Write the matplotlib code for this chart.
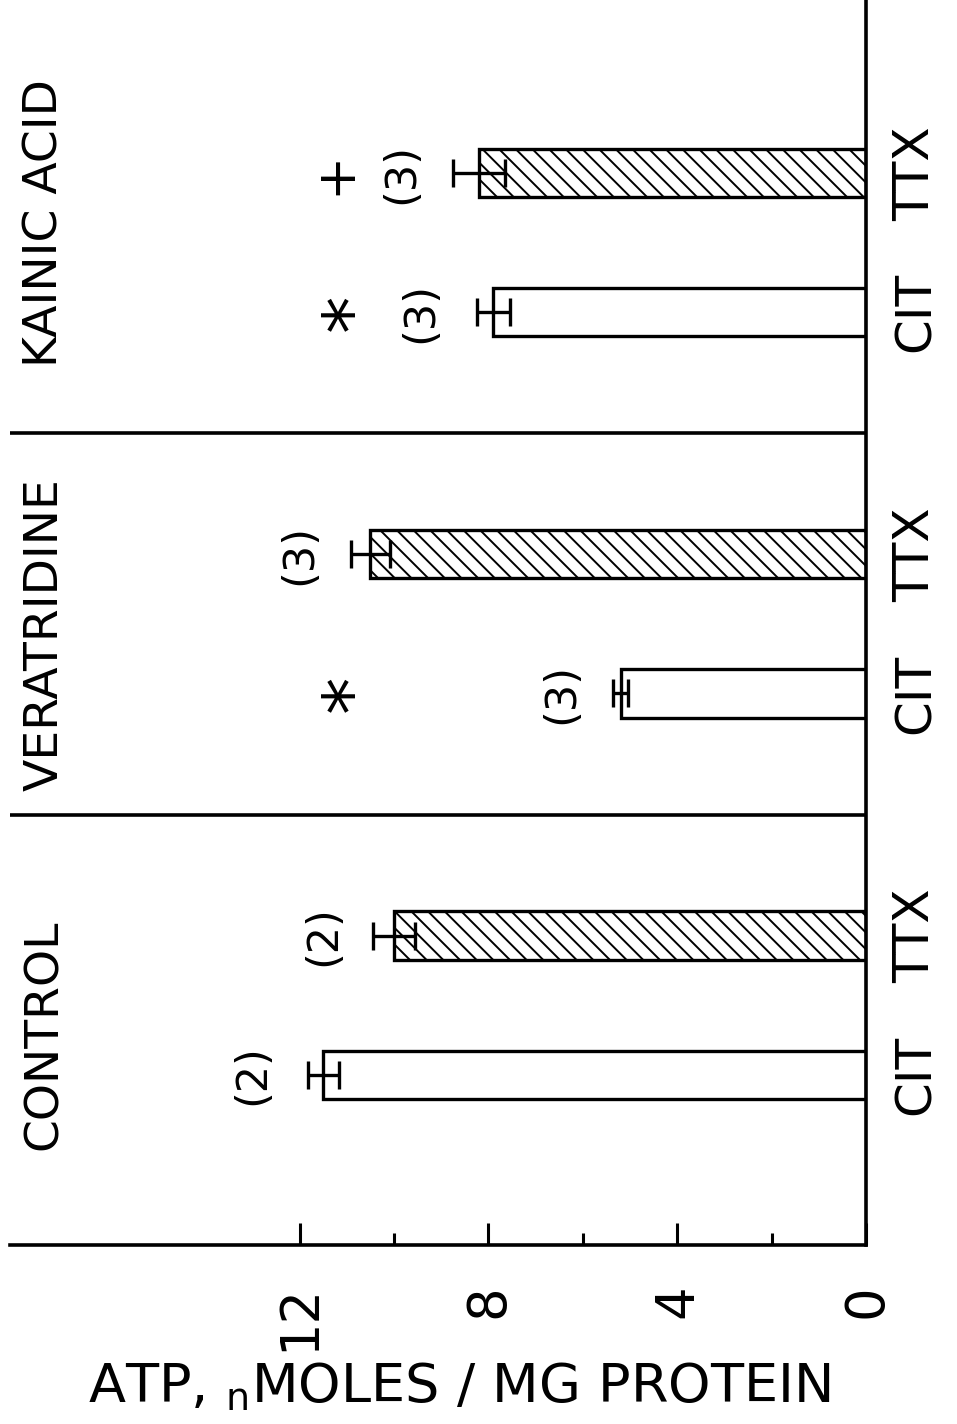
import numpy as np
import matplotlib
matplotlib.use("Agg")
import matplotlib.pyplot as plt

# ATP levels (nmoles / mg protein), figure is drawn turned on its side
groups = ["CONTROL", "VERATRIDINE", "KAINIC ACID"]
conditions = ["CIT", "TTX"]
atp_mean = [11.5, 10.0, 5.2, 10.5, 7.9, 8.2]
atp_err = [0.33, 0.45, 0.16, 0.42, 0.35, 0.55]
n_labels = ["(2)", "(2)", "(3)", "(3)", "(3)", "(3)"]
signif = ["", "", "*", "", "*", "+"]

# where the annotations sit along the value axis
n_label_x = [13.0, 11.5, 6.45, 12.0, 9.45, 9.85]
signif_x = [0, 0, 10.85, 0, 10.85, 11.25]

plt.rcParams['hatch.linewidth'] = 1.4
plt.rcParams['font.family'] = ['DejaVu Sans']

fig = plt.figure(figsize=(9.57, 14.24), dpi=100)
ax = fig.add_axes([10 / 957, 179 / 1424, 856 / 957, 1245 / 1424])

group_gap = 2.685
group_centers = 1.69 + group_gap * np.arange(len(groups))
pos = []
for c in group_centers:
    pos += [c - 0.49, c + 0.49]
pos = np.array(pos)
hatches = ["", "\\\\"] * len(groups)

bars = ax.barh(pos, atp_mean, height=0.34, color="white", edgecolor="black",
               linewidth=2.4, zorder=2)
for b, h in zip(bars, hatches):
    b.set_hatch(h)

ax.errorbar(atp_mean, pos, xerr=atp_err, fmt="none", ecolor="black",
            elinewidth=2.4, capsize=10, capthick=2.4, zorder=3)

# group separators
for c1, c2 in zip(group_centers[:-1], group_centers[1:]):
    ax.axhline((c1 + c2) / 2, color="black", linewidth=2.6, zorder=1)

for p, lab, x in zip(pos, n_labels, n_label_x):
    ax.text(x, p, lab, rotation=90, ha="center", va="center", fontsize=31)
for p, s, x in zip(pos, signif, signif_x):
    if s:
        ax.text(x, p, s, rotation=90, ha="center", va="center",
                fontsize=54 if s == "*" else 38)

label_y = [1.48, 4.30, 7.20]
for g, y in zip(groups, label_y):
    ax.text(17.4, y, g, rotation=90, ha="center", va="center", fontsize=34)

for i, p in enumerate(pos):
    ax.text(-1.05, p, conditions[i % 2], rotation=90, ha="center",
            va="center", fontsize=36, clip_on=False)

ax.set_xlim((866 - 10) / 47.2, 0)
ax.set_ylim(0, 8.77)

for side in ["top", "left"]:
    ax.spines[side].set_visible(False)
ax.spines["bottom"].set_linewidth(2.6)
ax.spines["right"].set_linewidth(2.6)

ax.set_yticks([])
ax.set_xticks([0, 4, 8, 12])
ax.set_xticks([2, 6, 10], minor=True)
ax.tick_params(axis="x", which="major", direction="in", length=16, width=2.2,
               labelsize=38, labelrotation=90, pad=28)
ax.tick_params(axis="x", which="minor", direction="in", length=9, width=2.2)

fig.text(0.48, 0.026, r"ATP, $_\mathregular{n}$MOLES / MG PROTEIN",
         ha="center", va="center", fontsize=39)

plt.savefig("out.png", dpi=100, facecolor="white")
